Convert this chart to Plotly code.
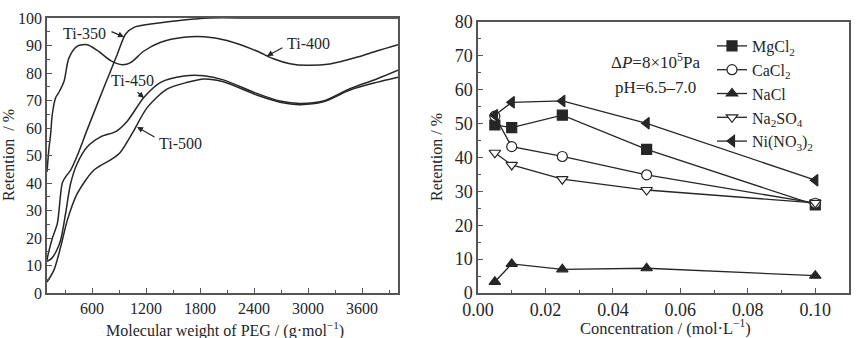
import plotly.graph_objects as go

# ---- Left panel: retention vs PEG molecular weight ----
peg_350_x = [100, 115, 160, 215, 270, 308, 363, 437, 548, 733, 881, 974, 1067, 1252, 1548, 1733, 1900, 2400, 3000, 3500, 4000]
peg_350_y = [12, 14.4, 20, 25.3, 40, 42.3, 44.7, 50, 59.5, 74.8, 86.8, 94.2, 96.6, 97.8, 99, 99.6, 100, 100, 100, 100, 100]

peg_400_x = [100, 120, 141, 159, 196, 233, 289, 344, 437, 548, 659, 807, 937, 1030, 1178, 1363, 1622, 1844, 2100, 2430, 2615, 2800, 2985, 3244, 3541, 3763, 4000]
peg_400_y = [44, 52, 58, 65, 71, 73, 77, 85.5, 89.8, 90.3, 88.2, 84.5, 83, 83.8, 88, 91.2, 93, 93.2, 91.8, 88, 85.2, 83.4, 82.8, 83.3, 85.7, 88, 90.3]

peg_450_x = [100, 150, 200, 252, 307, 363, 437, 548, 696, 863, 992, 1178, 1363, 1622, 1844, 2059, 2430, 2689, 2911, 3170, 3467, 3763, 4000]
peg_450_y = [11.5, 12.5, 15, 19.3, 29, 39.9, 47.2, 53.2, 56.8, 58.7, 62.5, 71.2, 76.6, 78.9, 79, 77.5, 72.6, 69.8, 68.9, 69.8, 74.3, 77.8, 81]

peg_500_x = [100, 178, 252, 326, 437, 622, 807, 911, 1048, 1215, 1437, 1659, 1844, 2059, 2430, 2689, 2911, 3170, 3467, 3763, 4000]
peg_500_y = [4, 8.4, 16.8, 26.5, 36.2, 44.7, 48.4, 51, 58.1, 67.5, 74.2, 76.6, 77.8, 76.8, 72, 69.4, 68.5, 69.5, 73.8, 76.6, 78.5]

peg_ticks = [600, 1200, 1800, 2400, 3000, 3600]

# ---- Right panel: retention vs salt concentration ----
conc = [0.005, 0.01, 0.025, 0.05, 0.10]
mgcl2 = [49.6, 48.8, 52.5, 42.4, 26.0]
cacl2 = [52.2, 43.2, 40.3, 34.9, 26.5]
nacl = [3.3, 8.6, 7.0, 7.3, 5.1]
na2so4 = [41.4, 37.8, 33.6, 30.4, 26.6]
ni_no3 = [52.5, 56.3, 56.7, 50.1, 33.3]

conc_ticks = [0.0, 0.02, 0.04, 0.06, 0.08, 0.10]
conc_ticktext = ["0.00", "0.02", "0.04", "0.06", "0.08", "0.10"]

INK = "#262626"
FRAME = "#555555"
FONT = "Liberation Serif"

fig = go.Figure()

for xs, ys in [(peg_350_x, peg_350_y), (peg_400_x, peg_400_y),
               (peg_450_x, peg_450_y), (peg_500_x, peg_500_y)]:
    fig.add_trace(go.Scatter(x=xs, y=ys, mode="lines", xaxis="x", yaxis="y",
                             line=dict(color=INK, width=1.5, shape="spline", smoothing=0.8),
                             showlegend=False, hoverinfo="skip"))

series = [
    ("MgCl<sub>2</sub>", mgcl2, "square", INK),
    ("CaCl<sub>2</sub>", cacl2, "circle", "white"),
    ("NaCl", nacl, "triangle-up", INK),
    ("Na<sub>2</sub>SO<sub>4</sub>", na2so4, "triangle-down", "white"),
    ("Ni(NO<sub>3</sub>)<sub>2</sub>", ni_no3, "triangle-left", INK),
]
for name, vals, sym, fill in series:
    fig.add_trace(go.Scatter(
        x=conc, y=vals, mode="lines+markers", name=name, xaxis="x2", yaxis="y2",
        line=dict(color=INK, width=1.3),
        marker=dict(symbol=sym, size=10, color=fill, line=dict(color=INK, width=1.2)),
        cliponaxis=False,
    ))

axis_common = dict(
    showline=True, linecolor=FRAME, linewidth=1.5, mirror=True,
    ticks="inside", ticklen=5, tickwidth=1.2, tickcolor=FRAME,
    showgrid=False, zeroline=False, automargin=False,
    tickfont=dict(family=FONT, size=16, color=INK),
)
right_font = dict(family=FONT, size=18, color=INK)

fig.update_layout(
    width=857, height=338,
    margin=dict(l=0, r=0, t=0, b=0, autoexpand=False),
    paper_bgcolor="white", plot_bgcolor="white",
    font=dict(family=FONT, color=INK),
    xaxis=dict(domain=[47 / 857, 398 / 857], range=[100, 4000],
               tickvals=peg_ticks,
               minor=dict(ticks="inside", ticklen=3, tickcolor=FRAME, dtick=300, tick0=0),
               anchor="y", **axis_common),
    yaxis=dict(domain=[45 / 338, 320 / 338], range=[0, 100], dtick=10,
               minor=dict(ticks="inside", ticklen=3, tickcolor=FRAME, dtick=5),
               anchor="x", **axis_common),
    xaxis2=dict(domain=[478 / 857, 849 / 857], range=[0, 0.11],
                tickvals=conc_ticks, ticktext=conc_ticktext,
                minor=dict(ticks="inside", ticklen=3, tickcolor=FRAME, dtick=0.01, tick0=0),
                anchor="y2", **{**axis_common, "tickfont": right_font}),
    yaxis2=dict(domain=[45 / 338, 316 / 338], range=[0, 80], dtick=10,
                minor=dict(ticks="inside", ticklen=3, tickcolor=FRAME, dtick=5),
                anchor="x2", **{**axis_common, "tickfont": right_font}),
    legend=dict(x=712 / 857, y=1 - 29 / 338, xanchor="left", yanchor="top",
                bgcolor="rgba(0,0,0,0)", borderwidth=0, itemwidth=30,
                tracegroupgap=0, font=dict(family=FONT, size=16, color=INK)),
)

annotations = []

# axis titles
title_font = dict(family=FONT, size=16, color=INK)
annotations += [
    dict(text="Retention  / %", xref="paper", yref="paper", x=8 / 857, y=1 - 155 / 338,
         xanchor="center", yanchor="middle", textangle=-90, showarrow=False, font=title_font),
    dict(text="Molecular weight of PEG / (g·mol<sup>−1</sup>)", xref="paper", yref="paper",
         x=225 / 857, y=1 - 329 / 338, xanchor="center", yanchor="middle",
         showarrow=False, font=title_font),
    dict(text="Retention / %", xref="paper", yref="paper", x=436 / 857, y=1 - 157 / 338,
         xanchor="center", yanchor="middle", textangle=-90, showarrow=False, font=title_font),
    dict(text="Concentration / (mol·L<sup>−1</sup>)", xref="paper", yref="paper",
         x=665 / 857, y=1 - 327 / 338, xanchor="center", yanchor="middle",
         showarrow=False, font=dict(family=FONT, size=16.5, color=INK)),
]

# curve labels with pointer arrows
curve_labels = [
    ("Ti-350", 522, 94.5, 800, 95.3, 956, 93.1),
    ("Ti-400", 3000, 90.9, 2733, 89.5, 2544, 86.2),
    ("Ti-450", 1055, 77.1, 1089, 73.5, 1178, 70.9),
    ("Ti-500", 1578, 54.5, 1311, 56.4, 1100, 60.4),
]
for label, tx, ty, ax_, ay_, hx, hy in curve_labels:
    annotations.append(dict(text=label, x=tx, y=ty, xref="x", yref="y", showarrow=False,
                            font=dict(family=FONT, size=16, color=INK)))
    annotations.append(dict(text="", x=hx, y=hy, xref="x", yref="y",
                            ax=ax_, ay=ay_, axref="x", ayref="y",
                            showarrow=True, arrowhead=2, arrowsize=1, arrowwidth=1.2,
                            arrowcolor=INK))

# operating conditions
annotations += [
    dict(text="Δ<i>P</i>=8×10<sup>5</sup>Pa", x=0.0525, y=68.5, xref="x2", yref="y2",
         showarrow=False, font=dict(family=FONT, size=17, color=INK)),
    dict(text="pH=6.5–7.0", x=0.0525, y=60.8, xref="x2", yref="y2",
         showarrow=False, font=dict(family=FONT, size=17, color=INK)),
]

fig.update_layout(annotations=annotations)
fig.write_html("out.html")
